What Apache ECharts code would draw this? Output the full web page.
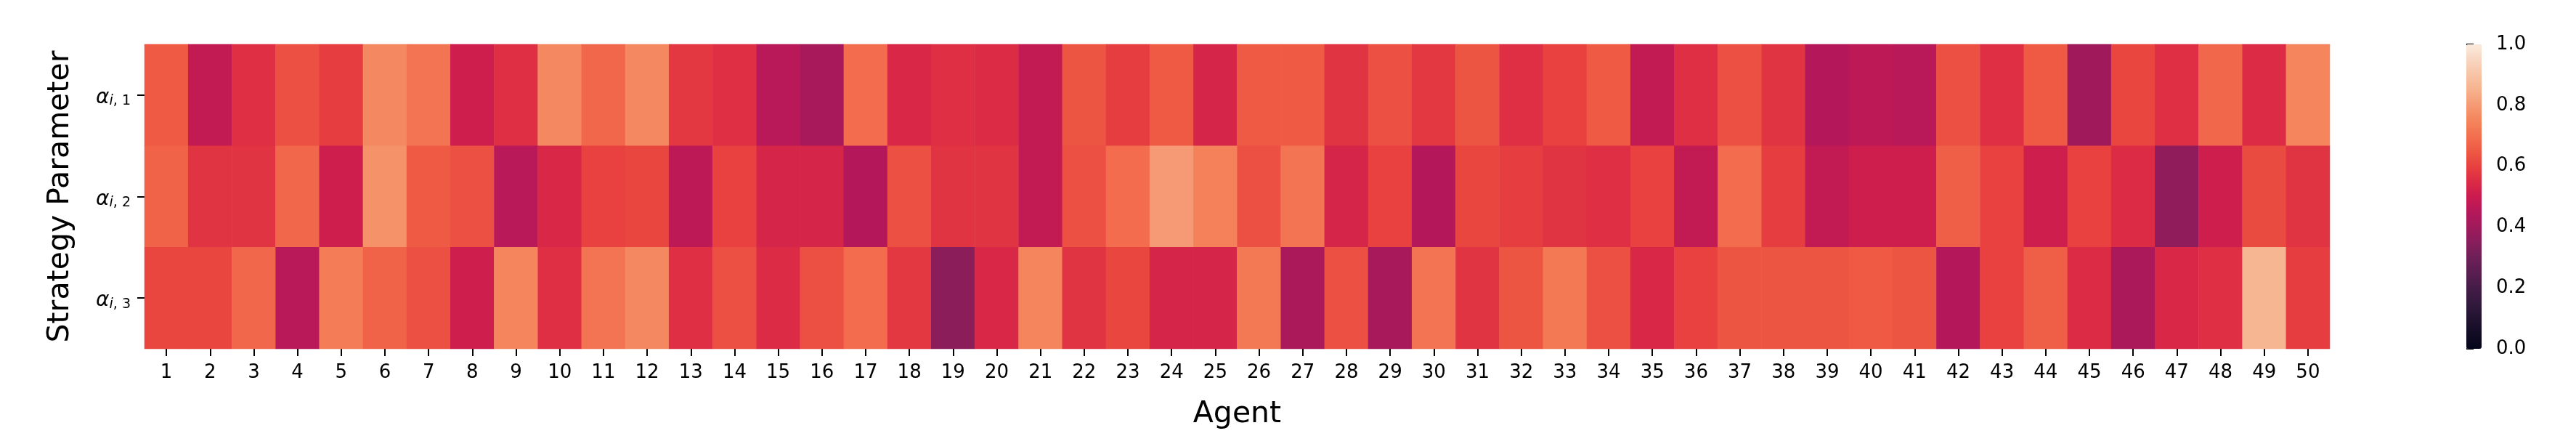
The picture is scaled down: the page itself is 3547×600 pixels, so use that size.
<!DOCTYPE html>
<html>
<head>
<meta charset="utf-8">
<script src="https://cdn.jsdelivr.net/npm/echarts@6/dist/echarts.min.js"></script>
<style>
html,body{margin:0;padding:0;background:#fff;}
#chart{width:3547px;height:600px;}
</style>
</head>
<body>
<div id="chart"></div>
<script>
// ---- data ----
const agents = ['1','2','3','4','5','6','7','8','9','10','11','12','13','14','15','16','17','18','19','20',
  '21','22','23','24','25','26','27','28','29','30','31','32','33','34','35','36','37','38','39','40',
  '41','42','43','44','45','46','47','48','49','50'];
const params = ['α_{i,1}', 'α_{i,2}', 'α_{i,3}'];
const alpha1 = [0.65,0.48,0.56,0.63,0.59,0.76,0.71,0.51,0.56,0.76,0.68,0.76,0.58,0.56,0.46,0.42,0.69,0.54,0.56,0.55,
  0.48,0.64,0.59,0.65,0.53,0.65,0.65,0.57,0.63,0.58,0.64,0.56,0.60,0.65,0.48,0.56,0.63,0.57,0.45,0.47,
  0.46,0.63,0.56,0.65,0.40,0.61,0.56,0.68,0.55,0.75];
const alpha2 = [0.67,0.57,0.57,0.68,0.51,0.78,0.65,0.63,0.46,0.54,0.60,0.61,0.47,0.60,0.53,0.53,0.45,0.63,0.57,0.57,
  0.48,0.63,0.69,0.80,0.74,0.63,0.71,0.53,0.60,0.45,0.61,0.59,0.57,0.56,0.60,0.48,0.69,0.59,0.48,0.51,
  0.51,0.66,0.60,0.51,0.60,0.55,0.37,0.51,0.62,0.57];
const alpha3 = [0.61,0.61,0.68,0.46,0.73,0.67,0.63,0.51,0.75,0.56,0.71,0.76,0.56,0.63,0.55,0.63,0.69,0.58,0.36,0.54,
  0.75,0.57,0.61,0.53,0.53,0.72,0.43,0.63,0.42,0.71,0.57,0.64,0.72,0.63,0.54,0.60,0.64,0.64,0.64,0.65,
  0.64,0.45,0.60,0.66,0.55,0.43,0.54,0.56,0.86,0.59];
const cbarTicks = [0, 0.2, 0.4, 0.6, 0.8, 1.0];

// rocket colormap, evenly spaced stops 0..1 step 0.05
const rocket = ['#03051A','#120C25','#221331','#33193D','#451C47','#591E50','#6E1F57','#871E5B','#A01A5B','#B4185A',
  '#CB1B4F','#DC2B45','#E8413F','#EE5A44','#F3704F','#F4855C','#F59A74','#F6B28D','#F7C4A6','#F8D6C2','#FAEBDD'];

const rows = [alpha1, alpha2, alpha3];
const cells = [];
rows.forEach((r, yi) => r.forEach((v, xi) => cells.push([xi, yi, v])));

const FONT = 'DejaVu Sans';
const chart = echarts.init(document.getElementById('chart'), null, {renderer: 'canvas'});
chart.setOption({
  backgroundColor: '#ffffff',
  animation: false,
  textStyle: {fontFamily: FONT},
  grid: [
    {left: 199, top: 61, width: 3009, height: 419, containLabel: false},
    {left: 3396, top: 61, width: 21, height: 419, containLabel: false}
  ],
  xAxis: [
    {
      type: 'category', data: agents, gridIndex: 0,
      axisLine: {show: false},
      axisTick: {show: true, alignWithLabel: true, length: 10, lineStyle: {color: '#000', width: 2}},
      axisLabel: {interval: 0, fontSize: 26, color: '#000', margin: 20, fontFamily: FONT},
      splitLine: {show: false}, splitArea: {show: false},
      name: 'Agent', nameLocation: 'middle', nameGap: 70,
      nameTextStyle: {fontSize: 41, color: '#000', fontFamily: FONT}
    },
    {type: 'value', gridIndex: 1, show: false, min: 0, max: 1}
  ],
  yAxis: [
    {
      type: 'category', data: params, gridIndex: 0, inverse: true,
      axisLine: {show: false},
      axisTick: {show: true, alignWithLabel: true, length: 10, lineStyle: {color: '#000', width: 2}},
      axisLabel: {
        margin: 19, color: '#000',
        formatter: function (v) {
          const m = v.match(/α_\{i,(\d)\}/);
          return '{a|α}{i|i}{n|, ' + m[1] + '}';
        },
        rich: {
          a: {fontSize: 28, fontStyle: 'italic', fontFamily: FONT, color: '#000', lineHeight: 36, verticalAlign: 'bottom'},
          i: {fontSize: 19, fontStyle: 'italic', fontFamily: FONT, color: '#000', lineHeight: 19, verticalAlign: 'bottom'},
          n: {fontSize: 19, fontFamily: FONT, color: '#000', lineHeight: 19, verticalAlign: 'bottom'}
        }
      },
      splitLine: {show: false}, splitArea: {show: false},
      name: 'Strategy Parameter', nameLocation: 'middle', nameGap: 95, nameRotate: 90,
      nameTextStyle: {fontSize: 41, color: '#000', fontFamily: FONT}
    },
    {
      type: 'value', gridIndex: 1, min: 0, max: 1, interval: 0.2, position: 'right',
      axisLine: {show: false},
      axisTick: {show: true, length: 10, lineStyle: {color: '#000', width: 2}},
      axisLabel: {fontSize: 26, color: '#000', margin: 20, fontFamily: FONT,
        formatter: v => (cbarTicks.indexOf(Math.round(v * 10) / 10) >= 0 ? v.toFixed(1) : '')},
      splitLine: {show: false}
    }
  ],
  visualMap: {
    type: 'continuous', min: 0, max: 1, seriesIndex: 0,
    calculable: false, hoverLink: false, orient: 'vertical',
    left: 3396, top: 61, itemWidth: 21, itemHeight: 419, padding: 0,
    inRange: {color: rocket}
  },
  series: [{
    type: 'heatmap', xAxisIndex: 0, yAxisIndex: 0, data: cells,
    itemStyle: {borderWidth: 0},
    emphasis: {disabled: true},
    label: {show: false}
  }]
});
</script>
</body>
</html>
